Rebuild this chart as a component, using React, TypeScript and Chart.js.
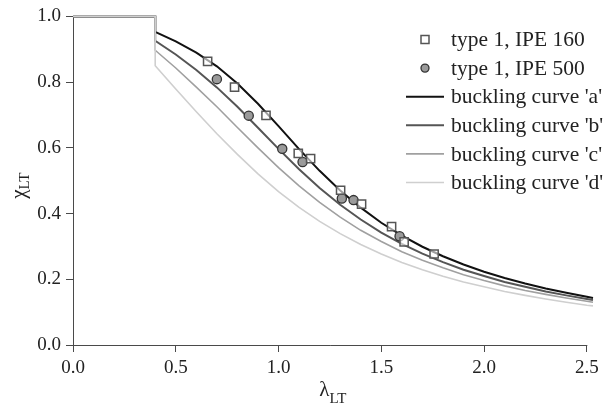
import React, { useEffect, useRef } from "react";
import { Chart, registerables } from "chart.js";

Chart.register(...registerables);

// Slenderness grid for the buckling curves (plateau to 0.4, then the curves)
const curveLambda = [0, 0.4, 0.4, 0.5, 0.6, 0.7, 0.8, 0.9, 1.0, 1.1, 1.2, 1.3, 1.4, 1.5, 1.6, 1.7, 1.8, 1.9, 2.0, 2.1, 2.2, 2.3, 2.4, 2.5, 2.53];
const curveA = [1, 1, 0.953, 0.924, 0.890, 0.848, 0.796, 0.734, 0.666, 0.596, 0.530, 0.470, 0.418, 0.372, 0.333, 0.299, 0.270, 0.245, 0.223, 0.204, 0.187, 0.172, 0.159, 0.147, 0.143];
const curveB = [1, 1, 0.926, 0.884, 0.837, 0.784, 0.725, 0.661, 0.597, 0.535, 0.478, 0.427, 0.382, 0.342, 0.308, 0.278, 0.252, 0.229, 0.210, 0.192, 0.177, 0.163, 0.151, 0.140, 0.137];
const curveC = [1, 1, 0.897, 0.843, 0.785, 0.725, 0.662, 0.600, 0.540, 0.484, 0.434, 0.389, 0.349, 0.315, 0.284, 0.258, 0.235, 0.214, 0.196, 0.180, 0.166, 0.154, 0.143, 0.133, 0.130];
const curveD = [1, 1, 0.850, 0.779, 0.710, 0.643, 0.580, 0.521, 0.467, 0.419, 0.376, 0.339, 0.306, 0.277, 0.251, 0.229, 0.209, 0.192, 0.177, 0.163, 0.151, 0.140, 0.130, 0.121, 0.119];

// Test results
const ipe160Lambda = [0.655, 0.786, 0.939, 1.096, 1.156, 1.302, 1.404, 1.550, 1.611, 1.757];
const ipe160Chi = [0.863, 0.785, 0.699, 0.583, 0.567, 0.471, 0.429, 0.360, 0.314, 0.277];
const ipe500Lambda = [0.700, 0.855, 1.018, 1.117, 1.308, 1.365, 1.589];
const ipe500Chi = [0.809, 0.698, 0.597, 0.557, 0.446, 0.441, 0.331];

const seriesLabels = ["type 1, IPE 160", "type 1, IPE 500", "buckling curve 'a'", "buckling curve 'b'", "buckling curve 'c'", "buckling curve 'd'"];

const xTickValues = [0, 0.5, 1.0, 1.5, 2.0, 2.5];
const yTickValues = [0, 0.2, 0.4, 0.6, 0.8, 1.0];
const xMin = 0;
const xMax = 2.53; // data range
const xAxisEnd = 2.5; // last tick / end of axis line
const yMin = 0;
const yMax = 1.0;

const SERIF = '"Liberation Serif", "Times New Roman", serif';
const AXIS_COLOR = "#4a4a4a";
const TEXT_COLOR = "#222";

const toPts = (xs: number[], ys: number[]) => xs.map((x, i) => ({ x, y: ys[i] }));

const legendPlugin = {
  id: "customLegend",
  afterDraw(chart: any) {
    const ctx = chart.ctx;
    const lineX0 = 406;
    const lineX1 = 444;
    const markX = 425;
    const textX = 451;
    const top = 39.5;
    const step = 28.6;
    ctx.save();
    ctx.font = `21.5px ${SERIF}`;
    ctx.textBaseline = "middle";
    ctx.textAlign = "left";
    chart.data.datasets.forEach((ds: any, i: number) => {
      const y = top + i * step;
      if (ds.showLine) {
        ctx.strokeStyle = ds.borderColor;
        ctx.lineWidth = ds.borderWidth;
        ctx.beginPath();
        ctx.moveTo(lineX0, y);
        ctx.lineTo(lineX1, y);
        ctx.stroke();
      } else if (ds.pointStyle === "rect") {
        ctx.fillStyle = ds.pointBackgroundColor;
        ctx.strokeStyle = ds.pointBorderColor;
        ctx.lineWidth = ds.pointBorderWidth;
        ctx.beginPath();
        ctx.rect(markX - 4, y - 4, 8, 8);
        ctx.fill();
        ctx.stroke();
      } else {
        ctx.fillStyle = ds.pointBackgroundColor;
        ctx.strokeStyle = ds.pointBorderColor;
        ctx.lineWidth = ds.pointBorderWidth;
        ctx.beginPath();
        ctx.arc(markX, y, 4, 0, Math.PI * 2);
        ctx.fill();
        ctx.stroke();
      }
      ctx.fillStyle = TEXT_COLOR;
      ctx.fillText(ds.label, textX, y + 1);
    });
    ctx.restore();
  },
};

const axesPlugin = {
  id: "axisExtras",
  beforeDatasetsDraw(chart: any) {
    // x axis line from 0 to the last tick
    const ctx = chart.ctx;
    const xs = chart.scales.x;
    const area = chart.chartArea;
    ctx.save();
    ctx.strokeStyle = AXIS_COLOR;
    ctx.lineWidth = 1;
    ctx.beginPath();
    ctx.moveTo(xs.getPixelForValue(xMin), Math.round(area.bottom) + 0.5);
    ctx.lineTo(xs.getPixelForValue(xAxisEnd) + 0.5, Math.round(area.bottom) + 0.5);
    ctx.stroke();
    ctx.restore();
  },
  afterDraw(chart: any) {
    const ctx = chart.ctx;
    const xs = chart.scales.x;
    const area = chart.chartArea;
    ctx.save();
    ctx.fillStyle = TEXT_COLOR;
    ctx.textAlign = "left";
    ctx.textBaseline = "alphabetic";
    // x title: lambda_LT
    ctx.font = `21px ${SERIF}`;
    const wL = ctx.measureText("λ").width;
    ctx.font = `15px ${SERIF}`;
    const wLT = ctx.measureText("LT").width;
    const cx = (xs.getPixelForValue(xMin) + xs.getPixelForValue(xAxisEnd)) / 2 + 3;
    const sx = cx - (wL + wLT) / 2;
    ctx.font = `21px ${SERIF}`;
    ctx.fillText("λ", sx, 396);
    ctx.font = `15px ${SERIF}`;
    ctx.fillText("LT", sx + wL, 403);
    // y title: chi_LT (rotated)
    ctx.font = `21px ${SERIF}`;
    const wC = ctx.measureText("χ").width;
    ctx.font = `15px ${SERIF}`;
    const wLT2 = ctx.measureText("LT").width;
    const cy = (area.top + area.bottom) / 2 + 5;
    ctx.translate(25, cy + (wC + wLT2) / 2);
    ctx.rotate(-Math.PI / 2);
    ctx.font = `21px ${SERIF}`;
    ctx.fillText("χ", 0, 0);
    ctx.font = `15px ${SERIF}`;
    ctx.fillText("LT", wC, 4);
    ctx.restore();
  },
};

export default function App() {
  const canvasRef = useRef<HTMLCanvasElement | null>(null);

  useEffect(() => {
    if (!canvasRef.current) return;
    const lineDs = (label: string, ys: number[], color: string, width: number, order: number) => ({
      label,
      data: toPts(curveLambda, ys),
      showLine: true,
      borderColor: color,
      backgroundColor: color,
      borderWidth: width,
      pointRadius: 0,
      pointHoverRadius: 0,
      tension: 0,
      clip: false,
      order,
    });
    const chart = new Chart(canvasRef.current, {
      type: "scatter",
      data: {
        datasets: [
          {
            label: seriesLabels[0],
            data: toPts(ipe160Lambda, ipe160Chi),
            pointStyle: "rect",
            pointRadius: 5.8,
            pointBackgroundColor: "rgba(255,255,255,0.6)",
            pointBorderColor: "#555",
            pointBorderWidth: 1.5,
            showLine: false,
            clip: false,
            order: 0,
          },
          {
            label: seriesLabels[1],
            data: toPts(ipe500Lambda, ipe500Chi),
            pointStyle: "circle",
            pointRadius: 4.6,
            pointBackgroundColor: "#9a9a9a",
            pointBorderColor: "#333",
            pointBorderWidth: 1.3,
            showLine: false,
            clip: false,
            order: 0,
          },
          lineDs(seriesLabels[2], curveA, "#111111", 2, 4),
          lineDs(seriesLabels[3], curveB, "#555555", 2, 3),
          lineDs(seriesLabels[4], curveC, "#a0a0a0", 1.6, 2),
          lineDs(seriesLabels[5], curveD, "#cfcfcf", 1.6, 1),
        ] as any,
      },
      options: {
        responsive: false,
        animation: false,
        layout: { padding: { top: 16, right: 11, left: 0, bottom: 0 } },
        plugins: {
          legend: { display: false },
          tooltip: { enabled: false },
        },
        scales: {
          x: {
            type: "linear",
            min: xMin,
            max: xMax,
            afterFit: (scale: any) => {
              scale.height = 63;
            },
            afterBuildTicks: (scale: any) => {
              scale.ticks = xTickValues.map((v) => ({ value: v }));
            },
            ticks: {
              padding: 5,
              color: TEXT_COLOR,
              font: { family: SERIF, size: 19 },
              callback: (v: any) => Number(v).toFixed(1),
            },
            grid: {
              display: true,
              drawOnChartArea: false,
              drawTicks: true,
              tickLength: 7,
              color: AXIS_COLOR,
              lineWidth: 1,
            },
            border: { display: false },
          },
          y: {
            type: "linear",
            min: yMin,
            max: yMax,
            afterFit: (scale: any) => {
              scale.width = 73;
            },
            afterBuildTicks: (scale: any) => {
              scale.ticks = yTickValues.map((v) => ({ value: v }));
            },
            ticks: {
              padding: 5,
              color: TEXT_COLOR,
              font: { family: SERIF, size: 19 },
              callback: (v: any) => Number(v).toFixed(1),
            },
            grid: {
              display: true,
              drawOnChartArea: false,
              drawTicks: true,
              tickLength: 7,
              color: AXIS_COLOR,
              lineWidth: 1,
            },
            border: { display: true, color: AXIS_COLOR, width: 1 },
          },
        },
      } as any,
      plugins: [legendPlugin, axesPlugin],
    });
    return () => chart.destroy();
  }, []);

  return (
    <div style={{ position: "fixed", left: 0, top: 0, width: 604, height: 408, background: "#fff" }}>
      <canvas ref={canvasRef} width={604} height={408} />
    </div>
  );
}
